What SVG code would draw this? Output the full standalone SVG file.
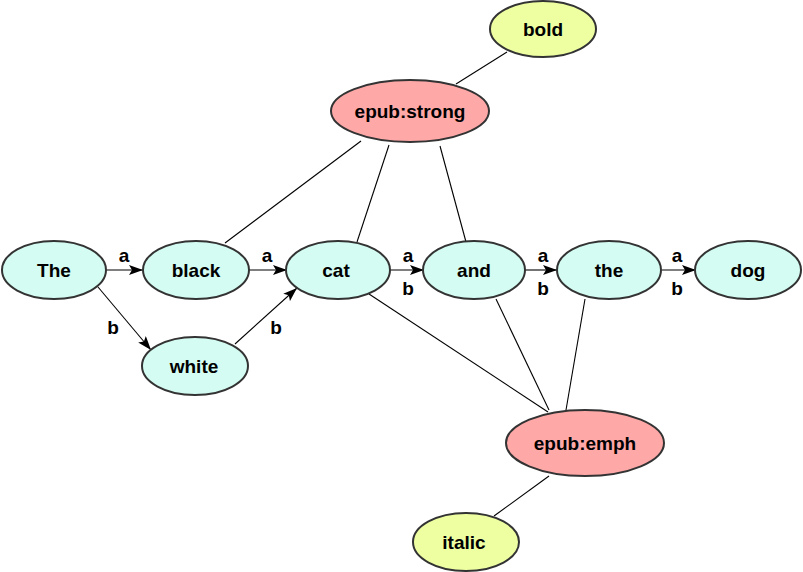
<svg xmlns="http://www.w3.org/2000/svg" width="803" height="572" viewBox="0 0 803 572">
<defs>
<marker id="arr" markerWidth="14" markerHeight="10" refX="14" refY="5" orient="auto" markerUnits="userSpaceOnUse">
<path d="M0,0 L14,5 L0,10 L3,5 Z" fill="#000"/>
</marker>
</defs>
<style>
text{font-family:"Liberation Sans",Arial,sans-serif;font-weight:bold;font-size:19px;fill:#000;text-anchor:middle}
.n ellipse{stroke:#333;stroke-width:2}
.w ellipse{fill:#d4fcf2}
.r ellipse{fill:#ffa8a8}
.y ellipse{fill:#eeffa2}
.e line{stroke:#000;stroke-width:1.1}
.e .a{marker-end:url(#arr)}
.lbl{font-size:19px}
</style>
<rect width="803" height="572" fill="#fff"/>
<g class="e" id="connectors">
<line x1="507" y1="52" x2="456" y2="84"/>
<line x1="225" y1="243" x2="361" y2="141"/>
<line x1="357" y1="242" x2="389" y2="145"/>
<line x1="466" y1="242" x2="440" y2="146"/>
<line x1="369" y1="294" x2="548" y2="412"/>
<line x1="496" y1="299" x2="549" y2="410"/>
<line x1="585" y1="299" x2="566" y2="410"/>
<line x1="549" y1="476" x2="494" y2="516"/>
<line class="a" x1="106" y1="270" x2="143" y2="270"/>
<line class="a" x1="249" y1="270" x2="287" y2="270"/>
<line class="a" x1="390" y1="270" x2="424" y2="270"/>
<line class="a" x1="525" y1="270" x2="557" y2="270"/>
<line class="a" x1="662" y1="270" x2="696" y2="270"/>
<line class="a" x1="98" y1="287" x2="151" y2="350"/>
<line class="a" x1="235" y1="344" x2="297" y2="288"/>
<text class="lbl" x="124" y="262">a</text>
<text class="lbl" x="267" y="262">a</text>
<text class="lbl" x="408" y="262">a</text>
<text class="lbl" x="408" y="295">b</text>
<text class="lbl" x="543" y="262">a</text>
<text class="lbl" x="543" y="295">b</text>
<text class="lbl" x="677" y="262">a</text>
<text class="lbl" x="677" y="295">b</text>
<text class="lbl" x="113" y="334">b</text>
<text class="lbl" x="276" y="334">b</text>
</g>
<g id="n-The" class="n w"><ellipse cx="54" cy="270" rx="52" ry="29"/><text x="54" y="277">The</text></g>
<g id="n-black" class="n w"><ellipse cx="196" cy="270" rx="53" ry="29"/><text x="196" y="277">black</text></g>
<g id="n-cat" class="n w"><ellipse cx="338" cy="270" rx="52" ry="29"/><text x="336" y="277">cat</text></g>
<g id="n-and" class="n w"><ellipse cx="474" cy="270" rx="51" ry="29"/><text x="474" y="277">and</text></g>
<g id="n-the" class="n w"><ellipse cx="609" cy="270" rx="52" ry="29"/><text x="609" y="277">the</text></g>
<g id="n-dog" class="n w"><ellipse cx="748" cy="270" rx="53" ry="29"/><text x="748" y="277">dog</text></g>
<g id="n-white" class="n w"><ellipse cx="195" cy="366" rx="53" ry="29"/><text x="194" y="373">white</text></g>
<g id="n-strong" class="n r"><ellipse cx="410" cy="111" rx="79" ry="31"/><text x="410" y="118">epub:strong</text></g>
<g id="n-bold" class="n y"><ellipse cx="543" cy="29" rx="53" ry="28"/><text x="543" y="36">bold</text></g>
<g id="n-emph" class="n r"><ellipse cx="585" cy="443" rx="79" ry="33"/><text x="585" y="450">epub:emph</text></g>
<g id="n-italic" class="n y"><ellipse cx="466" cy="542" rx="53" ry="29"/><text x="464" y="549">italic</text></g>
</svg>
